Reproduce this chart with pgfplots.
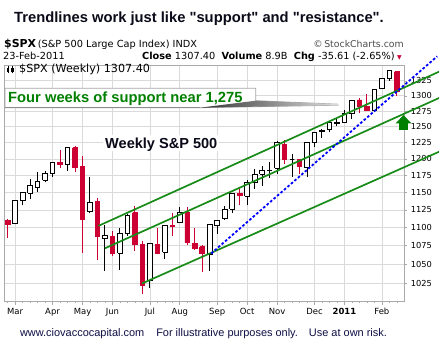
\documentclass[border=0pt]{standalone}
\usepackage{pgfplots}
\pgfplotsset{compat=1.18}
\usepackage{pgfplotstable}
\usepackage{fontspec}
\setmainfont{Liberation Sans}[Ligatures=TeXOff]
\newfontfamily\dv{DejaVu Sans}
\definecolor{candlered}{RGB}{204,0,51}
\definecolor{trendgreen}{RGB}{24,140,24}
\definecolor{txtgreen}{RGB}{0,128,0}
\definecolor{navy}{RGB}{15,15,70}
\definecolor{gridgray}{RGB}{218,218,218}
\definecolor{framegray}{RGB}{170,170,170}

% weekly S&P 500 candles: week index, open, high, low, close
\pgfplotstableread{
i o h l c
0 1109.9 1112.5 1086.0 1104.5
1 1105.4 1139.4 1104.5 1138.7
2 1138.0 1151.1 1131.5 1150.0
3 1149.0 1169.2 1141.0 1159.9
4 1157.2 1180.7 1150.5 1166.6
5 1167.7 1181.4 1165.0 1178.1
6 1178.7 1194.7 1173.5 1194.4
7 1194.9 1213.9 1186.8 1192.1
8 1192.0 1217.3 1182.0 1217.3
9 1217.0 1219.8 1180.0 1186.7
10 1188.6 1205.1 1065.8 1110.9
11 1122.3 1173.6 1120.0 1135.7
12 1136.5 1141.9 1055.9 1087.7
13 1084.8 1103.5 1040.8 1089.4
14 1087.3 1094.8 1060.5 1064.9
15 1064.9 1100.0 1042.2 1091.6
16 1091.2 1119.1 1089.0 1117.5
17 1121.0 1131.2 1067.9 1076.8
18 1076.4 1080.8 1010.9 1022.6
19 1028.1 1078.6 1018.4 1078.0
20 1077.2 1099.1 1063.3 1064.9
21 1066.0 1103.7 1056.9 1102.7
22 1102.9 1120.9 1088.0 1101.6
23 1107.5 1129.2 1107.5 1121.6
24 1122.0 1129.2 1076.6 1079.3
25 1077.5 1100.1 1069.5 1071.7
26 1073.4 1076.0 1039.7 1064.6
27 1062.9 1105.1 1040.9 1104.5
28 1102.6 1110.9 1091.2 1109.6
29 1113.4 1130.8 1110.6 1125.6
30 1126.1 1148.9 1120.5 1148.7
31 1148.6 1157.2 1131.9 1146.2
32 1145.0 1167.7 1131.9 1165.2
33 1165.3 1184.4 1155.7 1176.2
34 1176.8 1189.4 1159.7 1183.1
35 1183.3 1196.1 1171.7 1183.3
36 1185.7 1227.1 1177.7 1225.9
37 1222.0 1228.6 1192.6 1199.2
38 1199.7 1207.4 1173.0 1199.7
39 1199.5 1199.5 1176.9 1189.4
40 1186.6 1225.6 1173.0 1224.7
41 1225.0 1241.0 1217.8 1240.4
42 1242.5 1246.7 1232.9 1243.9
43 1245.8 1259.4 1241.5 1256.8
44 1254.7 1262.6 1251.5 1257.6
45 1257.6 1276.2 1257.6 1271.5
46 1271.0 1293.2 1262.2 1293.2
47 1293.2 1296.1 1271.3 1283.3
48 1283.3 1302.7 1275.1 1276.3
49 1276.5 1311.0 1273.6 1310.9
50 1311.8 1330.3 1311.7 1329.2
51 1328.7 1344.1 1324.6 1343.0
52 1340.4 1340.4 1299.9 1307.4
}\spx

\begin{document}
\begin{tikzpicture}
\useasboundingbox (0,0) rectangle (439bp,354bp);
\fill[white] (0,0) rectangle (439bp,354bp);
\begin{axis}[
  at={(4.3bp,52.3bp)}, anchor=south west,
  width=400bp, height=236.7bp, scale only axis,
  xmin=-0.45, xmax=53,
  ymode=log, ymin=1001.4, ymax=1352,
  clip=false,
  axis line style={framegray, line width=0.8pt},
  grid=major, major grid style={gridgray, line width=0.7pt},
  xtick={1,6,10,14,19,23,28,32,36,41,45,50},
  xticklabels={Mar,Apr,May,Jun,Jul,Aug,Sep,Oct,Nov,Dec,\textbf{2011},Feb},
  minor xtick={0,1,...,52},
  xtick pos=bottom, ytick pos=right,
  tick align=outside,
  major tick length=3bp, minor tick length=1.5bp,
  tick style={framegray, line width=0.6pt},
  ytick={1025,1050,1075,1100,1125,1150,1175,1200,1225,1250,1275,1300,1325},
  yticklabels={1025,1050,1075,1100,1125,1150,1175,1200,1225,1250,1275,1300,1325},
  yticklabel pos=right,
  xticklabel style={font=\dv\fontsize{8.5}{9}\selectfont},
  yticklabel style={font=\dv\fontsize{8.3}{9}\selectfont},
]
\pgfplotsforeachungrouped \r in {0,1,...,52}{%
  \pgfplotstablegetelem{\r}{o}\of\spx \let\vo\pgfplotsretval
  \pgfplotstablegetelem{\r}{h}\of\spx \let\vh\pgfplotsretval
  \pgfplotstablegetelem{\r}{l}\of\spx \let\vl\pgfplotsretval
  \pgfplotstablegetelem{\r}{c}\of\spx \let\vc\pgfplotsretval
  \pgfmathsetmacro\xa{\r-0.31}%
  \pgfmathsetmacro\xb{\r+0.31}%
  \pgfmathsetmacro\isred{\vc<\vo}%
  \ifdim\isred pt>0.5pt
    \def\ccol{candlered}\def\cfill{candlered}%
  \else
    \def\ccol{black}\def\cfill{white}%
  \fi
  \edef\cmd{%
    \noexpand\addplot[forget plot, draw=\ccol, line width=1bp] coordinates {(\r,\vl) (\r,\vh)};
    \noexpand\addplot[forget plot, draw=\ccol, fill=\cfill, line width=0.9bp] coordinates {(\xa,\vo) (\xb,\vo) (\xb,\vc) (\xa,\vc) (\xa,\vo)};
  }%
  \cmd
}
% trendline channel (parallel green lines)
\addplot[trendgreen, line width=1.7bp] coordinates {(12.11,1102.3) (57.66,1340.5)};
\addplot[trendgreen, line width=1.7bp] coordinates {(13.0,1071.5) (57.66,1296.5)};
\addplot[trendgreen, line width=1.7bp] coordinates {(17.95,1024.7) (57.66,1211.1)};
% steeper support line
\addplot[blue, line width=1.8bp, dash pattern=on 2.6bp off 2bp] coordinates {(27.2,1064.5) (57.39,1366.7)};
\end{axis}

% title
\node[anchor=base west, inner sep=0pt, font=\bfseries\fontsize{14.8}{16}\selectfont, text={rgb,255:red,10;green,10;blue,25}] at (14bp,331.3bp) {Trendlines work just like "support" and "resistance".};

% header
\node[anchor=base west, inner sep=0pt] at (4bp,306.7bp) {{\dv\bfseries\fontsize{11}{12}\selectfont \$SPX}\,{\dv\fontsize{9.8}{11}\selectfont(S\&P 500 Large Cap Index) INDX}};
\node[anchor=base east, inner sep=0pt, text=black!70] at (404bp,306.7bp) {\dv\fontsize{9.4}{11}\selectfont ©\,StockCharts.com};
\node[anchor=base west, inner sep=0pt] at (3bp,294bp) {\dv\fontsize{9.8}{11}\selectfont 23-Feb-2011};
\node[anchor=base east, inner sep=0pt] at (395bp,294bp) {\dv\fontsize{9.8}{11}\selectfont \textbf{Close} 1307.40 \ \textbf{Volume} 8.9B \ \textbf{Chg} -35.61 (-2.65\%)};
\node[anchor=base west, inner sep=0pt, text=candlered] at (397bp,294bp) {\dv\fontsize{6}{7}\selectfont ▼};

% in-plot legend
\node[anchor=base west, inner sep=0pt] at (19bp,281bp) {\dv\fontsize{11.2}{12}\selectfont \$SPX (Weekly) 1307.40};
\draw[black, line width=0.6bp] (8bp,280.5bp) -- (8bp,287.5bp) (12.5bp,280.5bp) -- (12.5bp,287.5bp);
\fill[black] (6.8bp,282bp) rectangle (9.2bp,286bp);
\draw[black, line width=0.5bp] (11.4bp,282.5bp) rectangle (13.6bp,285.5bp);

% callout
\path[fill=white, draw=gray!70, line width=0.8bp] (5bp,265.7bp) -- (255.7bp,265.7bp) -- (255.7bp,253.3bp) -- (338bp,249.8bp) -- (338bp,248.8bp) -- (200bp,246.3bp) -- (5bp,246.3bp) -- cycle;
\shade[left color=black!80, right color=gray!25] (200bp,246.3bp) -- (255.7bp,253.3bp) -- (338bp,249.8bp) -- (338bp,248.8bp) -- cycle;
\draw[gray!90, line width=1.2bp] (5bp,246.6bp) -- (200bp,246.6bp);
\node[anchor=base west, inner sep=0pt, text=txtgreen] at (8bp,251.7bp) {\bfseries\fontsize{14.8}{16}\selectfont Four weeks of support near 1,275};

% chart label
\fill[white] (103bp,203bp) rectangle (219bp,219bp);
\node[anchor=base west, inner sep=0pt, font=\bfseries\fontsize{14.6}{16}\selectfont, text={rgb,255:red,10;green,10;blue,25}] at (105bp,205.7bp) {Weekly S\&P 500};

% green arrow
\fill[txtgreen] (399bp,224bp) rectangle (408.3bp,230.7bp);
\fill[txtgreen] (395.7bp,230.7bp) -- (411.3bp,230.7bp) -- (403.5bp,239bp) -- cycle;

% footer
\node[anchor=base, inner sep=0pt, text=navy] at (203.5bp,17.3bp) {\fontsize{11}{12}\selectfont www.ciovaccocapital.com\hspace{12bp}For illustrative purposes only.\hspace{11bp}Use at own risk.};
\end{tikzpicture}
\end{document}
